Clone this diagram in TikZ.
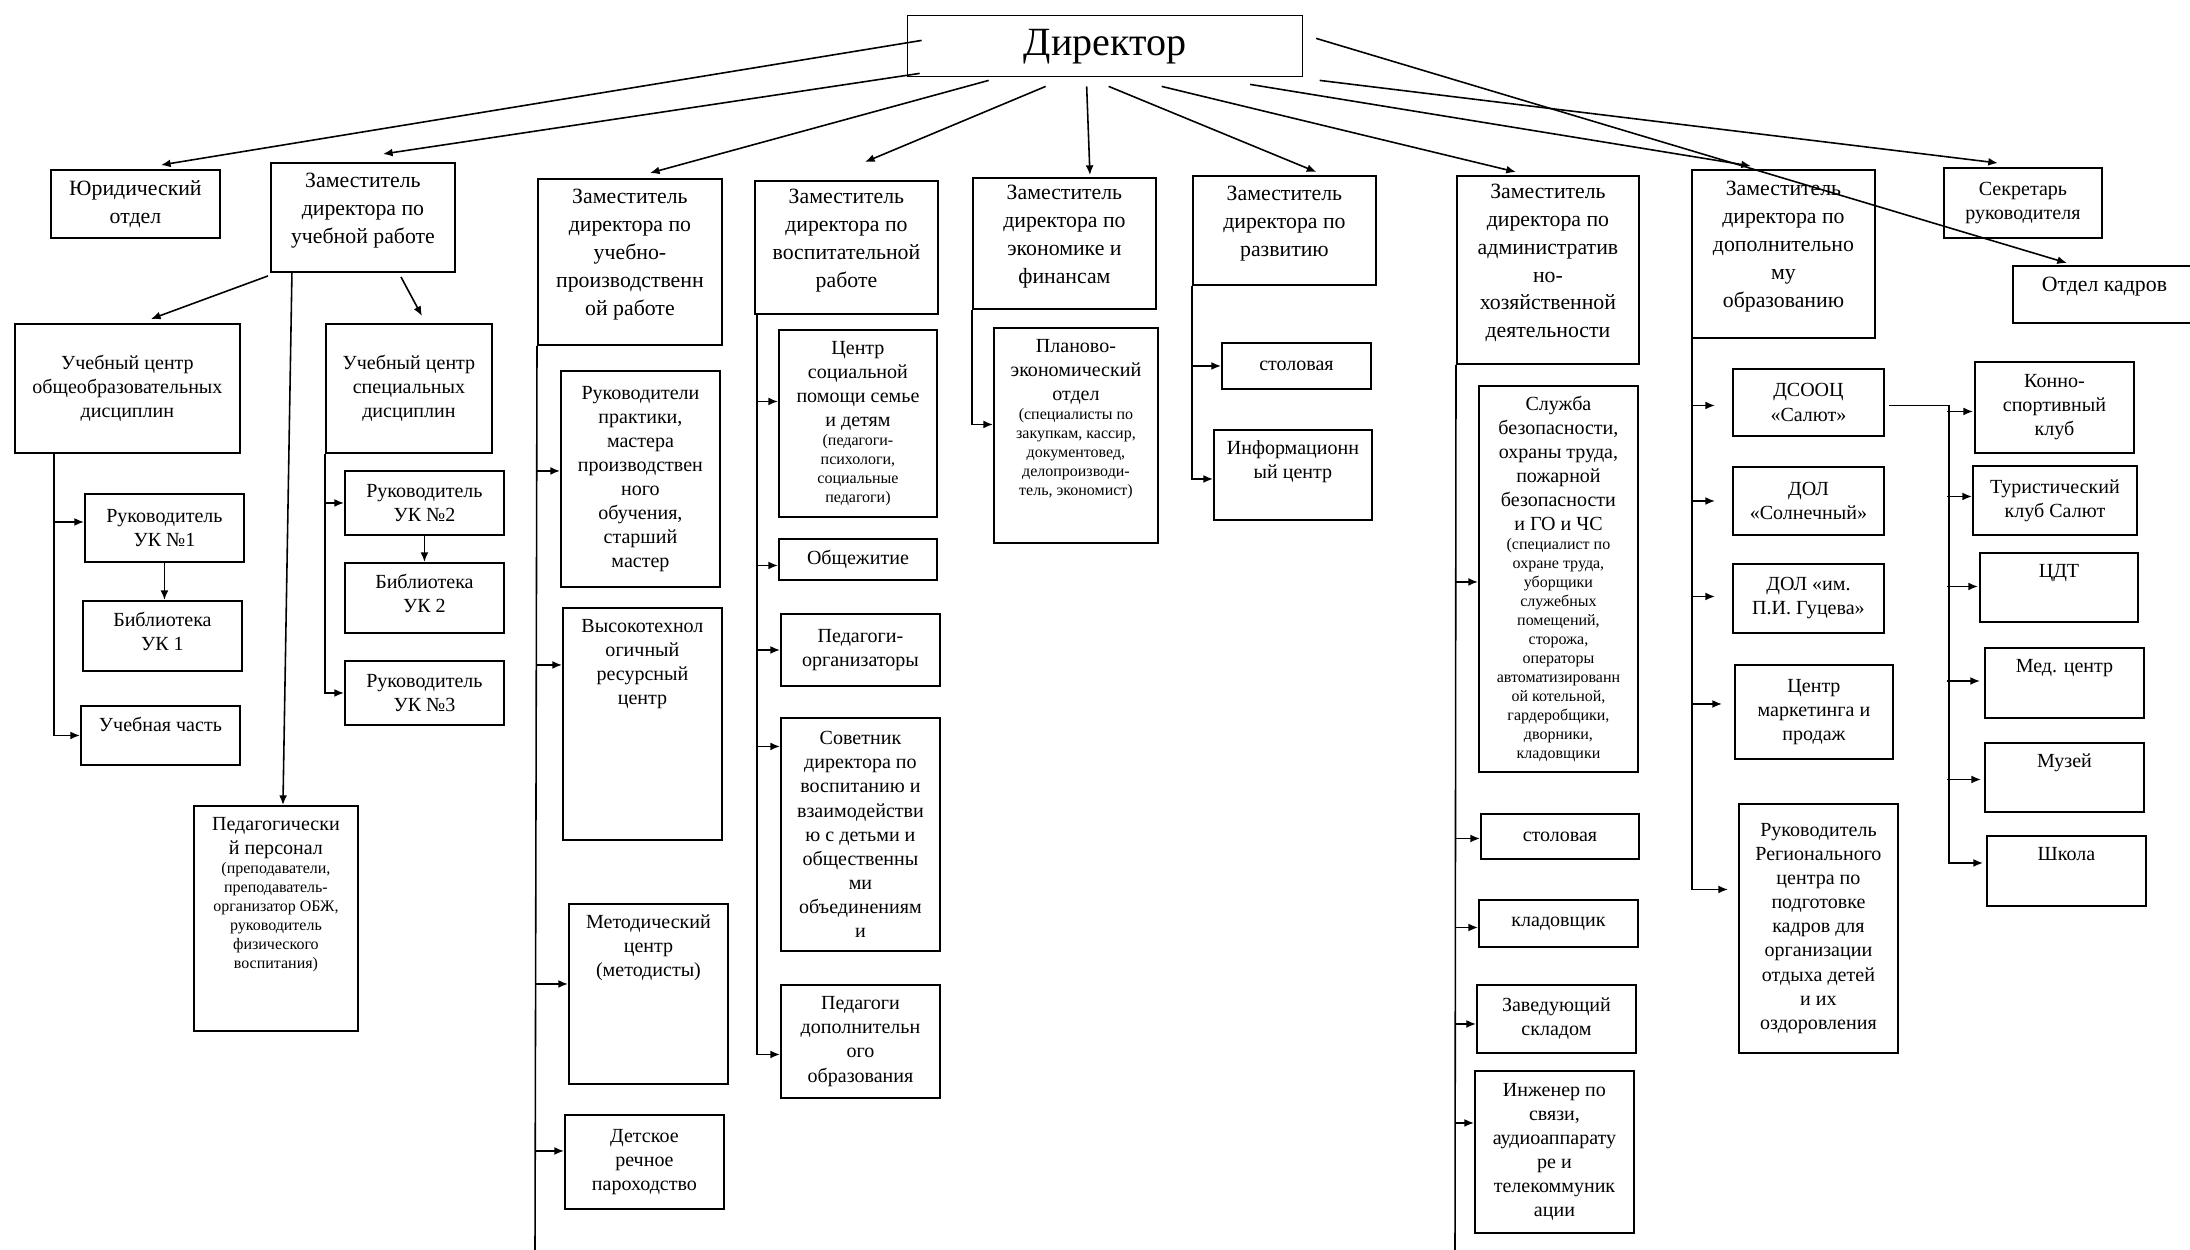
\documentclass[tikz,border=0pt]{standalone}
\usepackage{fontspec}
\setmainfont{Liberation Serif}
\usetikzlibrary{arrows.meta}
\newlength{\px}
\setlength{\px}{0.2mm}
\newcommand{\fn}{\fontsize{11.4}{13.7}\selectfont}
\newcommand{\fz}{\fontsize{12.4}{15.9}\selectfont}
\newcommand{\sm}{\fontsize{9.1}{10.8}\selectfont}
\newcommand{\bx}[4][c]{\parbox[c][#3\px][#1]{#2\px}{\centering\ifx t#1\vspace*{11\px}\fi #4\par}}
\newcommand{\zx}[3]{\parbox[c][#2\px][c]{#1\px}{\centering\vspace*{-14\px}#3\par}}
\tikzset{
  box/.style={draw, line width=1.1pt, inner sep=0pt, anchor=north west, font=\fn},
  zam/.style={box, font=\fz},
  arr/.style={line width=0.9pt, -{Latex[length=5.5pt,width=4.5pt]}},
  trunk/.style={line width=0.9pt}
}

\begin{document}
\begin{tikzpicture}[x=0.02cm, y=-0.02cm]
\useasboundingbox (0,0) rectangle (2190,1249);

\node[box, font=\fontsize{22.8}{26}\selectfont, line width=0.8pt] (dir) at (907,15) {\bx{395}{61}{Директор}};

\node[zam] (yur) at (50,169) {\bx{169}{68}{Юридический\\отдел}};
\node[zam] (zur) at (270,162) {\zx{184}{109}{Заместитель\\директора по\\учебной работе}};
\node[zam] (zupr) at (537,178) {\zx{184}{166}{Заместитель\\директора по\\учебно-\\производственн\\ой работе}};
\node[zam] (zvr) at (754,180) {\zx{183}{133}{Заместитель\\директора по\\воспитательной\\работе}};
\node[zam] (zef) at (972,177) {\zx{183}{131}{Заместитель\\директора по\\экономике и\\финансам}};
\node[zam] (zr) at (1192,175) {\zx{183}{109}{Заместитель\\директора по\\развитию}};
\node[zam] (zahd) at (1456,175) {\zx{182}{188}{Заместитель\\директора по\\административ\\но-\\хозяйственной\\деятельности}};
\node[zam] (zdo) at (1691,169) {\zx{183}{168}{Заместитель\\директора по\\дополнительно\\му\\образованию}};
\node[box] (sek) at (1943,167) {\bx{158}{70}{Секретарь\\руководителя}};
\node[zam] (kadr) at (2012,265) {\bx[t]{183}{57}{Отдел кадров}};

\node[box] (uco) at (14,323) {\bx{225}{129}{Учебный центр\\общеобразовательных\\дисциплин}};
\node[box] (ucs) at (325,323) {\bx{166}{129}{Учебный центр\\специальных\\дисциплин}};
\node[box] (uk1) at (84,493) {\bx{159}{68}{Руководитель\\УК №1}};
\node[box] (bib1) at (82,600) {\bx[t]{159}{70}{Библиотека\\УК 1}};
\node[box] (uchch) at (80,705) {\bx[t]{159}{59}{Учебная часть}};
\node[box] (uk2) at (344,470) {\bx{159}{64}{Руководитель\\УК №2}};
\node[box] (bib2) at (344,562) {\bx[t]{159}{70}{Библиотека\\УК 2}};
\node[box] (uk3) at (344,660) {\bx{159}{64}{Руководитель\\УК №3}};
\node[box] (pedp) at (193,805) {\bx[t]{164}{225}{Педагогически\\й персонал\par\sm (преподаватели,\\преподаватель-\\организатор ОБЖ,\\руководитель\\физического\\воспитания)}};

\node[box] (rukprak) at (560,370) {\bx{159}{216}{Руководители\\практики,\\мастера\\производствен\\ного\\обучения,\\старший\\мастер}};
\node[box] (vtrc) at (562,607) {\bx[t]{159}{232}{Высокотехнол\\огичный\\ресурсный\\центр}};
\node[box] (metod) at (568,903) {\bx[t]{159}{180}{Методический\\центр\\(методисты)}};
\node[box] (detsk) at (564,1114) {\bx{159}{94}{Детское\\речное\\пароходство}};

\node[box] (csp) at (778,329) {\bx{158}{187}{Центр\\социальной\\помощи семье\\и детям\par\sm (педагоги-\\психологи,\\социальные\\педагоги)}};
\node[box] (obsh) at (778,538) {\bx{158}{41}{Общежитие}};
\node[box] (porg) at (780,613) {\bx{159}{72}{Педагоги-\\организаторы}};
\node[box] (sov) at (780,717) {\bx{159}{233}{Советник\\директора по\\воспитанию и\\взаимодействи\\ю с детьми и\\общественны\\ми\\объединениям\\и}};
\node[box] (pdo) at (780,984) {\bx{159}{113}{Педагоги\\дополнительн\\ого\\образования}};

\node[box] (plan) at (993,327) {\bx[t]{164}{215}{Планово-\\экономический\\отдел\par\sm (специалисты по\\закупкам, кассир,\\документовед,\\делопроизводи-\\тель, экономист)}};
\node[box] (stol1) at (1221,342) {\bx{149}{46}{столовая}};
\node[box] (info) at (1213,429) {\bx[t]{158}{90}{Информационн\\ый центр}};

\node[box] (sluzh) at (1478,385) {\bx{159}{386}{Служба\\безопасности,\\охраны труда,\\пожарной\\безопасности\\и ГО и ЧС\par\sm (специалист по\\охране труда,\\уборщики\\служебных\\помещений,\\сторожа,\\операторы\\автоматизированн\\ой котельной,\\гардеробщики,\\дворники,\\кладовщики}};
\node[box] (stol2) at (1480,813) {\bx{158}{45}{столовая}};
\node[box] (klad) at (1478,899) {\bx{159}{47}{кладовщик}};
\node[box] (zav) at (1476,984) {\bx{159}{68}{Заведующий\\складом}};
\node[box] (inzh) at (1474,1070) {\bx{159}{162}{Инженер по\\связи,\\аудиоаппарату\\ре и\\телекоммуник\\ации}};

\node[box] (dsooc) at (1732,368) {\bx{151}{67}{ДСООЦ\\«Салют»}};
\node[box] (dolsol) at (1732,466) {\bx{151}{68}{ДОЛ\\«Солнечный»}};
\node[box] (dolg) at (1732,563) {\bx{151}{69}{ДОЛ «им.\\П.И. Гуцева»}};
\node[box] (mark) at (1734,664) {\bx{158}{94}{Центр\\маркетинга и\\продаж}};
\node[box] (rukreg) at (1738,803) {\bx{159}{249}{Руководитель\\Регионального\\центра по\\подготовке\\кадров для\\организации\\отдыха детей\\и их\\оздоровления}};
\node[box] (konno) at (1974,361) {\bx{159}{91}{Конно-\\спортивный\\клуб}};
\node[box] (tur) at (1972,465) {\bx{164}{69}{Туристический\\клуб Салют}};
\node[box] (cdt) at (1979,552) {\bx[t]{158}{69}{ЦДТ}};
\node[box] (med) at (1984,647) {\bx[t]{159}{70}{Мед. центр}};
\node[box] (muz) at (1984,742) {\bx[t]{159}{69}{Музей}};
\node[box] (shk) at (1986,835) {\bx[t]{159}{70}{Школа}};

\draw[arr] ([shift={(-183.5,-37)}]dir.south) -- ([shift={(25.5,-4)}]yur.north);
\draw[arr] ([shift={(-185.5,-4)}]dir.south) -- ([shift={(20,-8)}]zur.north);
\draw[arr] ([shift={(-116.5,3)}]dir.south) -- ([shift={(20,-5)}]zupr.north);
\draw[arr] ([shift={(-59.5,9)}]dir.south) -- ([shift={(18.5,-18)}]zvr.north);
\draw[arr] ([shift={(-18.5,9)}]dir.south) -- ([shift={(25.5,-2)}]zef.north);
\draw[arr] ([shift={(3.5,9)}]dir.south) -- ([shift={(32,-3)}]zr.north);
\draw[arr] ([shift={(56.5,9)}]dir.south) -- ([shift={(-32,-3)}]zahd.north);
\draw[arr] ([shift={(145,7)}]dir.south) -- ([shift={(-32.5,-3)}]zdo.north);
\draw[arr] ([shift={(214.5,3)}]dir.south) -- ([shift={(-25,-4)}]sek.north);
\draw[arr] ([shift={(211,-39)}]dir.south) -- ([shift={(-37.5,-2)}]kadr.north);

\draw[arr] ([shift={(-2,3)}]zur.south west) -- ([shift={(23.5,-4)}]uco.north);
\draw[arr] ([shift={(38,4)}]zur.south) -- ([shift={(13,-7)}]ucs.north);
\draw[arr] ([shift={(-71,0)}]zur.south) -- ([shift={(7,0)}]pedp.north);
\draw[arr] ([shift={(40,0)}]uco.south west) |- (uchch.west);
\draw[arr] (uk1.west) ++(-30,-6) -- ++(30,0);
\draw[arr] (uk1.south) -- (uk1.south |- bib1.north);
\draw[arr] (ucs.south west) |- (uk3.west);
\draw[arr] (ucs.south west |- uk2.west) -- (uk2.west);
\draw[arr] (uk2.south) -- (uk2.south |- bib2.north);

\draw[trunk] (zupr.south west) -- ++(-2,905);
\draw[arr] (rukprak.west) ++(-24,-8) -- ++(24,0);
\draw[arr] (vtrc.west) ++(-26,-59) -- ++(26,0);
\draw[arr] (metod.west) ++(-32,-10) -- ++(32,0);
\draw[arr] (detsk.west) ++(-29,-11) -- ++(29,0);

\draw[arr] ([shift={(3,0)}]zvr.south west) |- ([shift={(0,13)}]pdo.west);
\draw[arr] (csp.west) ++(-21,-22) -- ++(21,0);
\draw[arr] (obsh.west) ++(-21,6) -- ++(21,0);
\draw[arr] (porg.west) ++(-23,0) -- ++(23,0);
\draw[arr] (sov.west) ++(-23,-88) -- ++(23,0);

\draw[arr] (zef.south west) |- ([shift={(0,-11)}]plan.west);
\draw[arr] (zr.south west) |- ([shift={(0,4)}]info.west);
\draw[arr] (zr.south west |- stol1.west) -- (stol1.west);

\draw[trunk] (zahd.south west) -- ++(-1,886);
\draw[arr] (sluzh.west) ++(-22,3) -- ++(22,0);
\draw[arr] (stol2.west) ++(-25,2) -- ++(25,0);
\draw[arr] (klad.west) ++(-22,4) -- ++(22,0);
\draw[arr] (zav.west) ++(-20,5) -- ++(20,0);
\draw[arr] (inzh.west) ++(-18,-29) -- ++(18,0);

\draw[arr] ([shift={(1,0)}]zdo.south west) |- ([shift={(-10,-39)}]rukreg.west);
\draw[arr] (dsooc.west) ++(-40,3) -- ++(23,0);
\draw[arr] (dolsol.west) ++(-40,0) -- ++(23,0);
\draw[arr] (dolg.west) ++(-40,-2) -- ++(23,0);
\draw[arr] (mark.west) ++(-42,-8) -- ++(30,0);
\draw[arr] ([shift={(4,3)}]dsooc.east) -- ++(60,0) |- ([shift={(-3,-8)}]shk.west);
\draw[arr] (konno.west) ++(-27,4) -- ++(26,0);
\draw[arr] (tur.west) ++(-25,-4) -- ++(25,0);
\draw[arr] (cdt.west) ++(-32,-1) -- ++(31,0);
\draw[arr] (med.west) ++(-37,-2) -- ++(33,0);
\draw[arr] (muz.west) ++(-37,2) -- ++(34,0);
\end{tikzpicture}
\end{document}
